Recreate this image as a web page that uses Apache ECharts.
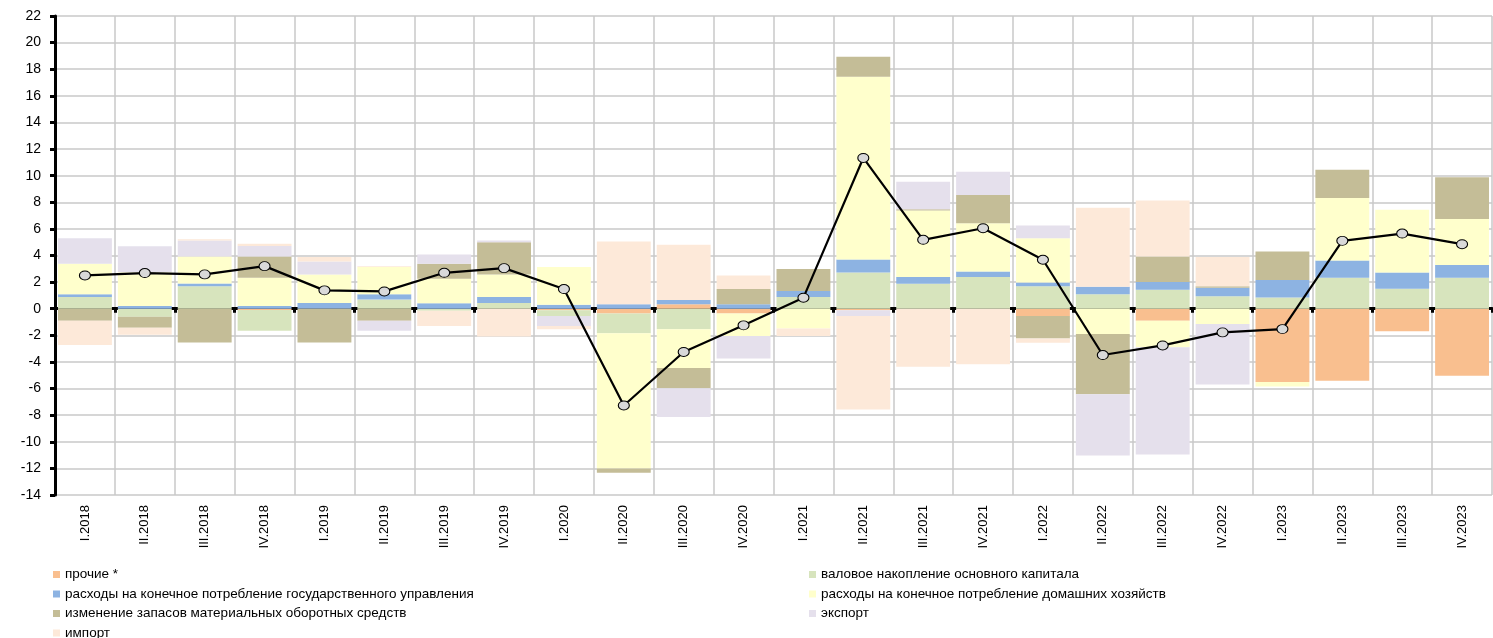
<!DOCTYPE html>
<html>
<head>
<meta charset="utf-8">
<script src="https://cdn.jsdelivr.net/npm/echarts@6/dist/echarts.min.js"></script>
<style>
  html, body { margin: 0; padding: 0; background: #fff; }
  #chart { width: 1493px; height: 638px; }
</style>
</head>
<body>
<div id="chart"></div>
<script>
// кварталы
var categories = ['I.2018','II.2018','III.2018','IV.2018','I.2019','II.2019','III.2019','IV.2019',
  'I.2020','II.2020','III.2020','IV.2020','I.2021','II.2021','III.2021','IV.2021',
  'I.2022','II.2022','III.2022','IV.2022','I.2023','II.2023','III.2023','IV.2023'];

// вклады компонентов, п.п.
var prochie = [0, 0, 0, -0.1, 0, 0, 0, 0, -0.12, -0.35, 0.33, -0.35, 0, -0.12, 0, 0, -0.55, 0, -0.9, 0, -5.51, -5.41, -1.7, -5.03];
var valovoe = [0.88, -0.6, 1.68, -1.55, 0, 0.7, -0.15, 0.43, -0.43, -1.5, -1.55, 0, 0.88, 2.73, 1.88, 2.38, 1.68, 1.08, 1.43, 0.93, 0.85, 2.33, 1.5, 2.33];
var gos = [0.2, 0.2, 0.22, 0.2, 0.43, 0.38, 0.42, 0.45, 0.3, 0.33, 0.32, 0.33, 0.45, 0.97, 0.5, 0.42, 0.3, 0.57, 0.57, 0.65, 1.3, 1.3, 1.23, 0.95];
var domHoz = [2.3, 2.55, 2.03, 2.13, 2.15, 2.05, 1.83, 1.7, 2.83, -10.15, -2.9, -1.7, -1.48, 13.73, 5.0, 3.63, 3.32, -1.9, -2.0, -1.15, -0.33, 4.7, 4.7, 3.47];
var zapasy = [-0.9, -0.83, -2.53, 1.6, -2.53, -0.9, 1.13, 2.42, 0, -0.33, -1.53, 1.15, 1.65, 1.5, 0.1, 2.12, -1.68, -4.53, 1.93, 0.1, 2.15, 2.12, 0, 3.13];
var eksport = [1.92, 1.95, 1.2, 0.78, 0.97, -0.75, 0.7, 0.13, -0.75, 0, -2.15, -1.7, 0, -0.43, 2.07, 1.75, 0.95, -4.6, -8.05, -4.54, 0, 0, 0, 0];
var import_ = [-1.83, -0.52, 0.1, 0.18, 0.33, 0.07, -1.15, -2.08, -0.25, 4.72, 4.15, 1.02, -0.57, -7.02, -4.36, -4.18, -0.33, 5.93, 4.2, 2.2, 0, 0, 0, 0];
// ВВП, прирост
var vvp = [2.5, 2.68, 2.58, 3.2, 1.38, 1.3, 2.7, 3.05, 1.48, -7.27, -3.25, -1.25, 0.83, 11.33, 5.18, 6.05, 3.68, -3.48, -2.76, -1.78, -1.53, 5.1, 5.65, 4.85];

var names = ['прочие *', 'валовое накопление основного капитала', 'расходы на конечное потребление государственного управления',
  'расходы на конечное потребление домашних хозяйств', 'изменение запасов материальных оборотных средств', 'экспорт', 'импорт'];
var colors = ['#f9bf8f', '#d7e4bd', '#8db3e2', '#ffffcc', '#c4bd97', '#e5e0ec', '#fde9d9'];
var values = [prochie, valovoe, gos, domHoz, zapasy, eksport, import_];

var font = '"Liberation Sans", Arial, sans-serif';
var series = [];
for (var i = 0; i < names.length; i++) {
  series.push({
    name: names[i],
    type: 'bar',
    stack: 'vklad',
    data: values[i],
    barCategoryGap: '10%',
    itemStyle: { color: colors[i] },
    emphasis: { disabled: true }
  });
}
series.push({
  name: 'ВВП',
  type: 'line',
  data: vvp,
  z: 5,
  symbol: 'circle',
  symbolSize: [11, 9],
  lineStyle: { color: '#000', width: 2.2 },
  itemStyle: { color: '#d9d9d9', borderColor: '#000', borderWidth: 1 }
});

// легенда: два столбца, по строкам
var legendText = { fontFamily: font, fontSize: 13.5, color: '#000' };
var legends = [];
for (var k = 0; k < names.length; k++) {
  legends.push({
    data: [names[k]],
    left: k % 2 === 0 ? 53 : 809,
    top: 567.5 + Math.floor(k / 2) * 19.5,
    itemWidth: 7, itemHeight: 7, icon: 'rect', itemGap: 0, padding: 0,
    textStyle: legendText
  });
}

var chart = echarts.init(document.getElementById('chart'));
chart.setOption({
  animation: false,
  grid: { left: 55, right: 1, top: 16, bottom: 143 },
  legend: legends,
  xAxis: [{
    type: 'category',
    data: categories,
    axisLine: { show: false, onZero: false },
    axisTick: { show: false },
    splitLine: { show: true, interval: 0, lineStyle: { color: '#c8c8c8', width: 1.5 } },
    axisLabel: { rotate: 90, interval: 0, margin: 10, fontFamily: font, fontSize: 13, color: '#000' }
  }, {
    type: 'category',
    data: categories,
    position: 'bottom',
    axisLine: { onZero: true, lineStyle: { color: '#000', width: 3 } },
    axisTick: { show: true, interval: 0, length: 4, lineStyle: { color: '#000', width: 3 } },
    axisLabel: { show: false },
    splitLine: { show: false }
  }],
  yAxis: {
    type: 'value',
    min: -14, max: 22, interval: 2,
    axisLine: { show: true, lineStyle: { color: '#000', width: 3 } },
    axisTick: { show: true, length: 5, lineStyle: { color: '#000', width: 3 } },
    splitLine: { lineStyle: { color: '#c8c8c8', width: 1.5 } },
    axisLabel: { margin: 14, fontFamily: font, fontSize: 14, color: '#000' }
  },
  series: series
});
</script>
</body>
</html>
